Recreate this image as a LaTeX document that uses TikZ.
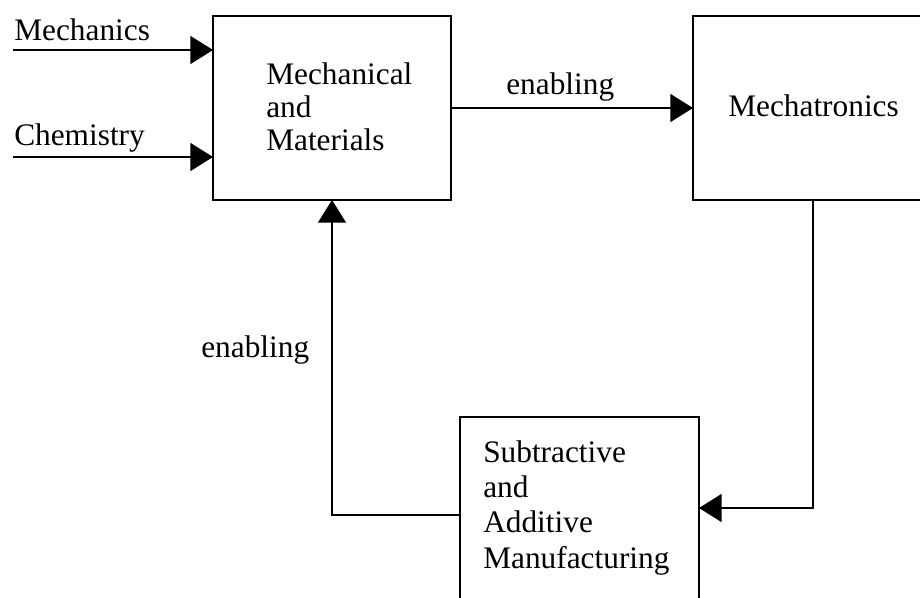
\documentclass[tikz,border=0pt]{standalone}
\usepackage{fontspec}
\setmainfont{Liberation Serif}
\usetikzlibrary{arrows.meta}
\begin{document}
\begin{tikzpicture}[x=0.75pt,y=-0.75pt,
  box/.style={draw, line width=1.2pt, inner sep=0pt, outer sep=0pt},
  lbl/.style={inner sep=0pt, font=\fontsize{23.5}{24.75}\selectfont},
  conn/.style={line width=1.2pt, -{Triangle[length=17pt,width=21pt]}},
  plain/.style={line width=1.2pt}]
\useasboundingbox (0,0) rectangle (920,598);
\clip (0,0) rectangle (920,598);
% boxes
\node[box, minimum width=178.5pt, minimum height=138pt] (mm) at (332,108) {};
\node[box, minimum width=180pt, minimum height=138pt] (mt) at (813,108) {};
\node[box, minimum width=179.25pt, minimum height=136.5pt] (sam) at (579.5,508) {};
% box texts
\node[lbl, anchor=north west, align=left] (tmm) at (266,62) {Mechanical\\and\\Materials};
\node[lbl, anchor=base west] (tmt) at (728,117) {Mechatronics};
\node[lbl, anchor=north west, align=left, font=\fontsize{23.5}{26.6}\selectfont] (tsam) at (483,440) {Subtractive\\and\\Additive\\Manufacturing};
% inputs
\coordinate (inA) at (13,50);
\coordinate (inB) at (13,157);
\draw[conn] (inA) -- (inA -| mm.west);
\draw[conn] (inB) -- (inB -| mm.west);
\node[lbl, anchor=base west] (lA) at (14,41) {Mechanics};
\node[lbl, anchor=base west] (lB) at (14,146) {Chemistry};
% connectors
\draw[conn] (mm.east) -- (mt.west);
\node[lbl, anchor=base west] (e1) at (506,95) {enabling};
\draw[conn] (mt.south) |- (sam.east);
\draw[conn] ([yshift=-5.25pt]sam.west) -| (mm.south);
\node[lbl, anchor=base west] (e2) at (201,357) {enabling};
\end{tikzpicture}
\end{document}
